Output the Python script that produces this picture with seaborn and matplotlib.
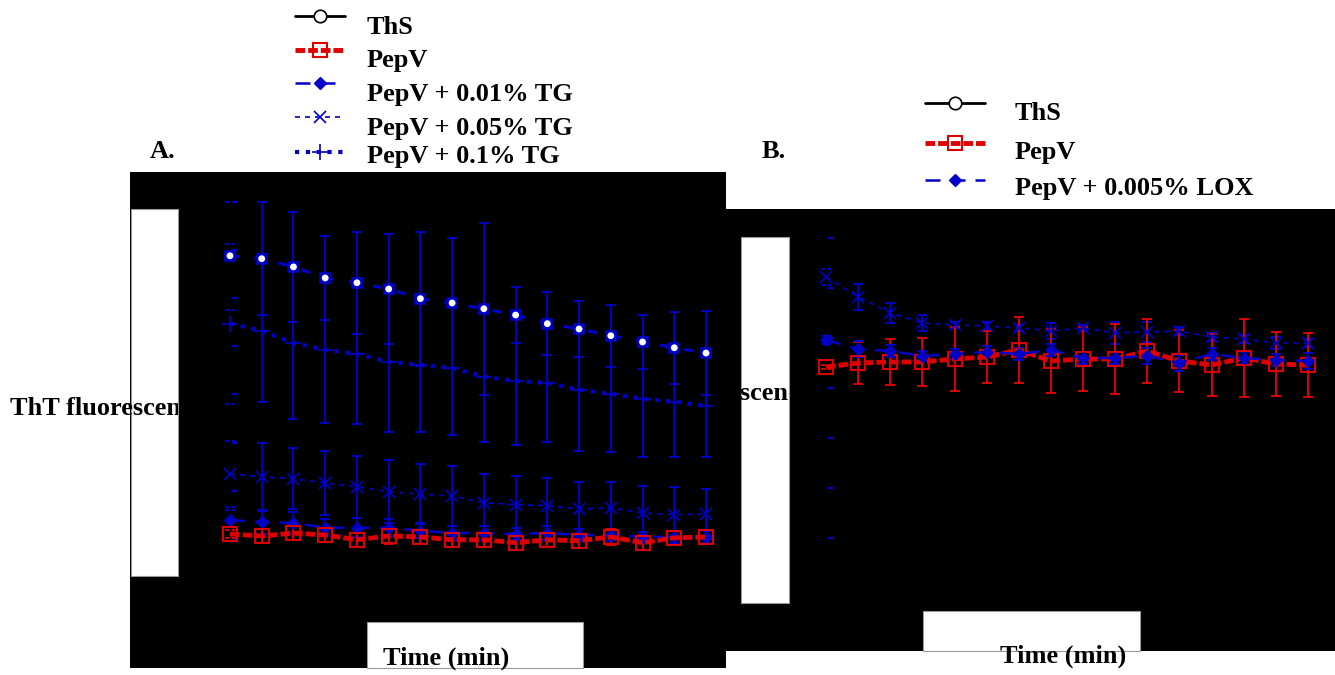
import pandas as pd
import seaborn as sns
import matplotlib.pyplot as plt
from matplotlib.patches import Rectangle
from matplotlib.transforms import Bbox, TransformedBbox

# readings every 2 min, 16 time points
time_min = list(range(0, 32, 2))

# Panel A - TG series (a.u.)
a_ths = [688, 682, 665, 642, 632, 619, 599, 590, 578, 565, 547, 536, 522, 509, 497, 486]
a_ths_err = [112, 118, 114, 87, 106, 114, 139, 135, 179, 58, 66, 58, 64, 56, 75, 87]
a_pepv = [110, 106, 112, 108, 98, 106, 104, 98, 98, 92, 98, 96, 104, 92, 102, 104]
a_pepv_err = [8, 15, 14, 14, 14, 16, 14, 14, 14, 16, 14, 14, 16, 16, 14, 14]
a_tg001 = [139, 135, 133, 123, 123, 123, 117, 112, 112, 110, 112, 108, 108, 104, 104, 104]
a_tg001_err = [20, 25, 22, 18, 20, 18, 15, 14, 14, 12, 14, 12, 12, 10, 12, 12]
a_tg005 = [235, 229, 225, 216, 208, 198, 193, 189, 175, 171, 169, 162, 164, 154, 150, 152]
a_tg005_err = [69, 71, 64, 66, 64, 66, 62, 62, 60, 60, 58, 56, 54, 56, 58, 52]
a_tg01 = [547, 532, 507, 493, 484, 468, 461, 455, 437, 428, 424, 410, 401, 391, 385, 376]
a_tg01_err = [166, 147, 158, 152, 145, 147, 139, 139, 135, 133, 123, 127, 120, 120, 114, 106]

# Panel B - LOX series (a.u.)
b_pepv = [442, 450, 452, 452, 458, 462, 476, 454, 458, 458, 474, 454, 446, 460, 448, 446]
b_pepv_err = [4, 42, 46, 48, 64, 52, 66, 64, 64, 70, 64, 62, 62, 78, 64, 64]
b_lox0005 = [496, 478, 474, 464, 468, 472, 468, 476, 460, 460, 464, 450, 468, 460, 456, 454]
b_lox0005_err = [8, 16, 12, 10, 10, 12, 12, 12, 12, 12, 16, 16, 12, 12, 12, 16]
b_lox_x = [622, 582, 550, 530, 526, 524, 520, 514, 520, 510, 512, 514, 502, 498, 490, 490]
b_lox_x_err = [16, 26, 20, 16, 6, 8, 6, 16, 6, 22, 20, 8, 8, 8, 12, 8]

a_labels = ["ThS", "PepV", "PepV + 0.01% TG", "PepV + 0.05% TG", "PepV + 0.1% TG"]
b_labels = ["ThS", "PepV", "PepV + 0.005% LOX"]

BLUE = "#0000c8"
RED = "#dd0000"
W, H = 1335, 675

sns.set_theme(style="white")
plt.rcParams['font.family'] = ['Liberation Serif', 'DejaVu Serif']
plt.rcParams['font.weight'] = 'bold'

fig = plt.figure(figsize=(W / 100, H / 100), dpi=100)
fig.patch.set_facecolor('white')

# full-figure pixel canvas for the panel frames and labels
bg = fig.add_axes([0, 0, 1, 1], zorder=0)
bg.set_xlim(0, W)
bg.set_ylim(H, 0)
bg.axis('off')


def rect(x0, y0, x1, y1, color, z, edge='none'):
    bg.add_patch(Rectangle((x0, y0), x1 - x0, y1 - y0, facecolor=color,
                           edgecolor=edge, lw=0.8, zorder=z))


def clip_px(x0, y0, x1, y1):
    return TransformedBbox(Bbox.from_extents(x0 / W, 1 - y1 / H, x1 / W, 1 - y0 / H),
                           fig.transFigure)


def label(x, y, s, clip=None, z=3):
    t = bg.text(x, y, s, fontsize=19, fontweight='bold', ha='left', va='center',
                color='black', zorder=z)
    if clip is not None:
        t.set_clip_box(clip_px(*clip))
        t.set_clip_on(True)
    return t


# black panel areas and the white label boxes
rect(130, 172, 726, 668, 'black', 1)
rect(726, 209, W, 651, 'black', 1)
rect(131, 209, 178, 576, 'white', 2, edge='#999999')
rect(367, 622, 583, 668, 'white', 2, edge='#999999')
rect(741, 237, 789, 603, 'white', 2, edge='#999999')
rect(923, 611, 1140, 651, 'white', 2, edge='#999999')

label(150, 152, "A.")
label(762, 152, "B.")
label(10, 408, "ThT fluorescence (a.u.)", clip=(0, 0, 178, H))
label(617, 393, "ThT fluorescence (a.u.)", clip=(741, 0, 789, H))
label(383, 658, "Time (min)")
label(1000, 656, "Time (min)")

# legend samples
styles = {
    "ThS": dict(color='black', lw=2, ls='-', marker='o', ms=9, mfc='white', mec='black', mew=1.2),
    "PepV": dict(color=RED, lw=3.5, ls=(0, (2, 0.6)), marker='s', ms=10, mfc='none', mec=RED, mew=1.5),
    "TG001": dict(color=BLUE, lw=1.8, ls=(0, (6, 4)), marker='D', ms=6, mfc=BLUE, mec=BLUE),
    "TG005": dict(color=BLUE, lw=1.2, ls=(0, (3, 3)), marker='x', ms=9, mec=BLUE, mew=1.2),
    "TG01": dict(color=BLUE, lw=3, ls=(0, (1, 1.6)), marker='+', ms=11, mec=BLUE, mew=1.2),
}


def legend_entry(x0, x1, y, key, z=3):
    bg.plot([x0, (x0 + x1) / 2, x1], [y, y, y], markevery=[1], zorder=z, **styles[key])


for key, ys, ty, txt in zip(["ThS", "PepV", "TG001", "TG005", "TG01"],
                            [16, 50, 83, 117, 152], [27, 61, 95, 128, 157], a_labels):
    legend_entry(295, 345, ys, key)
    label(367, ty, txt)

for key, ys, ty, txt in zip(["ThS", "PepV", "TG001"], [103, 143, 180], [113, 152, 188], b_labels):
    legend_entry(925, 985, ys, key)
    label(1015, ty, txt)
legend_entry(925, 985, 217, "TG005", z=0.5)


def data_axes(x0, y0, x1, y1, xlim, ylim, ticks):
    ax = fig.add_axes([x0 / W, 1 - y1 / H, (x1 - x0) / W, (y1 - y0) / H], zorder=5)
    ax.set_facecolor('none')
    ax.set_xlim(*xlim)
    ax.set_ylim(*ylim)
    for s in ['top', 'right', 'bottom']:
        ax.spines[s].set_visible(False)
    ax.spines['left'].set_position(('data', 0))
    ax.spines['left'].set_color('black')
    ax.spines['left'].set_linewidth(2)
    pad = (ylim[1] - ylim[0]) * 0.02
    ax.spines['left'].set_bounds(ylim[0] + pad, ylim[1] - pad)
    ax.set_xticks([])
    ax.set_yticks(ticks)
    ax.tick_params(axis='y', direction='in', length=6, width=1.6, color=BLUE,
                   labelleft=False, left=True)
    ax.grid(False)
    return ax


def series(ax, values, err, key, ecolor, white_dot=False):
    df = pd.DataFrame({'time': time_min, 'value': values})
    ax.errorbar(time_min, values, yerr=err, fmt='none', ecolor=ecolor,
                elinewidth=1.4, capsize=3.5, capthick=1.4, zorder=2)
    st = dict(styles[key])
    if white_dot:
        st.update(color=BLUE, lw=2.2, ls=(0, (3, 5)), marker='s', ms=7, mfc=BLUE, mec=BLUE)
    sns.lineplot(data=df, x='time', y='value', ax=ax, errorbar=None, zorder=3, **st)
    if white_dot:
        sns.scatterplot(data=df, x='time', y='value', ax=ax, color='white', s=24,
                        marker='o', edgecolor='none', zorder=4)
    ax.set_xlabel('')
    ax.set_ylabel('')


axA = data_axes(178, 172, 726, 668, (-3.277, 31.26), (-168.3, 862.1), range(100, 900, 100))
series(axA, a_tg01, a_tg01_err, "TG01", BLUE)
series(axA, a_tg005, a_tg005_err, "TG005", BLUE)
series(axA, a_tg001, a_tg001_err, "TG001", BLUE)
series(axA, a_pepv, a_pepv_err, "PepV", RED)
series(axA, a_ths, a_ths_err, "ThS", BLUE, white_dot=True)

axB = data_axes(790, 209, 1335, 651, (-2.241, 31.68), (-126, 758), range(100, 800, 100))
series(axB, b_lox_x, b_lox_x_err, "TG005", BLUE)
series(axB, b_pepv, b_pepv_err, "PepV", RED)
series(axB, b_lox0005, b_lox0005_err, "TG001", BLUE)

fig.savefig("out.png", dpi=100, facecolor='white')
plt.close(fig)
